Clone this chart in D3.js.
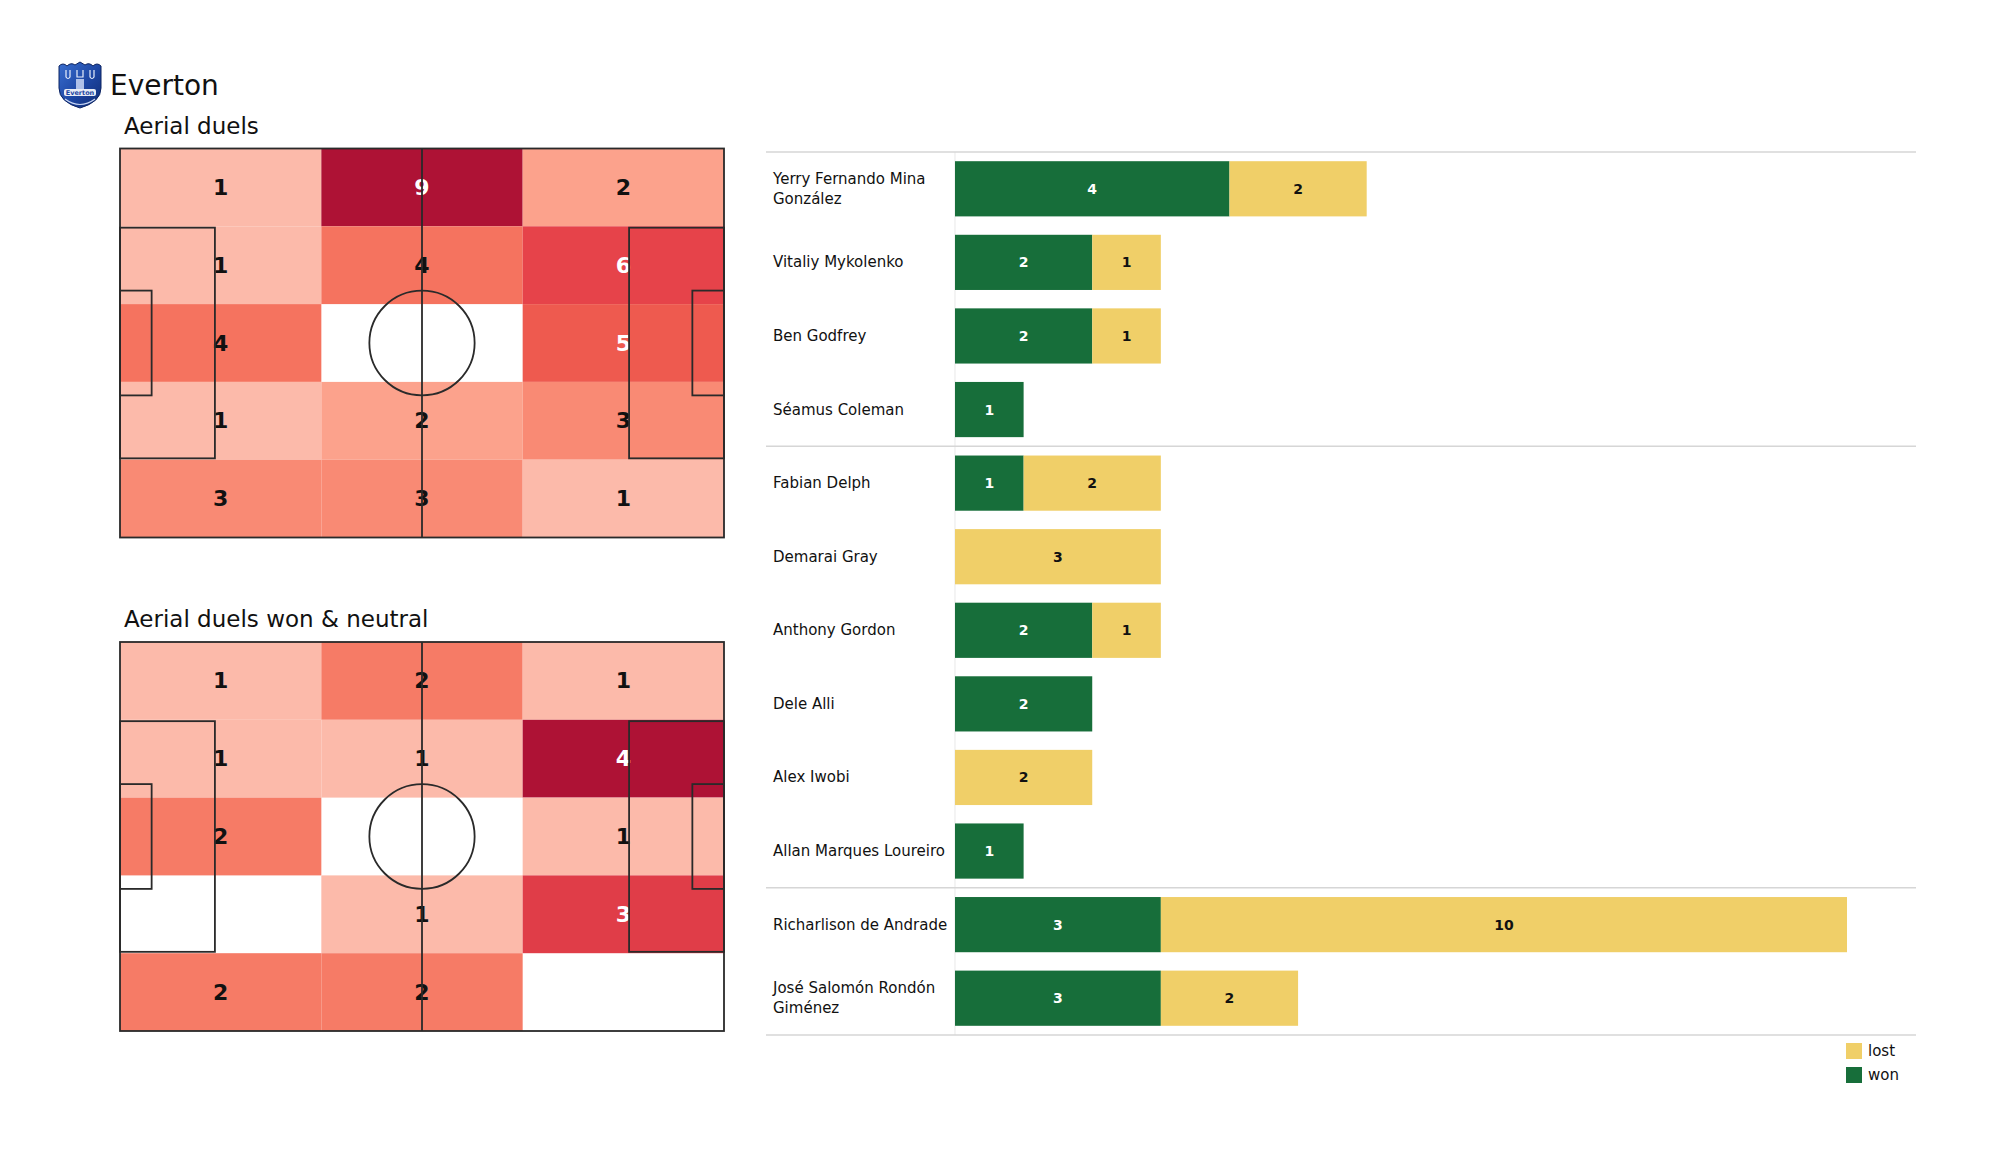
<!DOCTYPE html>
<html>
<head>
<meta charset="utf-8">
<script src="https://cdn.jsdelivr.net/npm/d3@7"></script>
<style>
  html, body { margin: 0; padding: 0; background: #ffffff; }
  svg { display: block; }
  text { font-family: "DejaVu Sans", sans-serif; }
</style>
</head>
<body>
<svg id="chart" width="2000" height="1175"></svg>
<script>
// ---------------- DATA ----------------
const teamName = "Everton";
const pitchTitles = ["Aerial duels", "Aerial duels won & neutral"];
// rows top->bottom, columns left->right
const aerialDuels = [
  [1, 9, 2],
  [1, 4, 6],
  [4, 0, 5],
  [1, 2, 3],
  [3, 3, 1]
];
const aerialDuelsWonNeutral = [
  [1, 2, 1],
  [1, 1, 4],
  [2, 0, 1],
  [0, 1, 3],
  [2, 2, 0]
];
const players = [
  "Yerry Fernando Mina González",
  "Vitaliy Mykolenko",
  "Ben Godfrey",
  "Séamus Coleman",
  "Fabian Delph",
  "Demarai Gray",
  "Anthony Gordon",
  "Dele Alli",
  "Alex Iwobi",
  "Allan Marques Loureiro",
  "Richarlison de Andrade",
  "José Salomón Rondón Giménez"
];
const playerLabelLines = [
  ["Yerry Fernando Mina", "González"],
  ["Vitaliy Mykolenko"],
  ["Ben Godfrey"],
  ["Séamus Coleman"],
  ["Fabian Delph"],
  ["Demarai Gray"],
  ["Anthony Gordon"],
  ["Dele Alli"],
  ["Alex Iwobi"],
  ["Allan Marques Loureiro"],
  ["Richarlison de Andrade"],
  ["José Salomón Rondón", "Giménez"]
];
const won  = [4, 2, 2, 1, 1, 0, 2, 2, 0, 1, 3, 3];
const lost = [2, 1, 1, 0, 2, 3, 1, 0, 2, 0, 10, 2];
const groupSizes = [4, 6, 2];
const seriesNames = ["won", "lost"];
const legendOrder = ["lost", "won"];

// ---------------- STYLE ----------------
const seriesColors = { won: "#176e3a", lost: "#f0cf68" };
const heatStops  = [0, 0.125, 0.25, 0.375, 0.5, 0.625, 0.8, 1];
const heatColors = ["#fcbaaa", "#fca28c", "#f98a74", "#f5735f", "#ee5a4f", "#e6434a", "#cd2a40", "#ae1235"];

const svg = d3.select("#chart");
svg.append("rect").attr("width", 2000).attr("height", 1175).attr("fill", "#ffffff");

// ---------------- LOGO ----------------
const logo = svg.append("g").attr("transform", "translate(57,62)");
const defs = svg.append("defs");
const grad = defs.append("linearGradient").attr("id", "crestGrad")
  .attr("x1", "0").attr("y1", "0").attr("x2", "1").attr("y2", "1");
grad.append("stop").attr("offset", "0%").attr("stop-color", "#3a6fd0");
grad.append("stop").attr("offset", "55%").attr("stop-color", "#1d46a3");
grad.append("stop").attr("offset", "100%").attr("stop-color", "#102c72");
logo.append("path")
  .attr("d", "M2,4 Q6,0 10,4 Q14,0 18,3 L23,0 L28,3 Q32,0 36,4 Q40,0 44,4 L44,26 Q44,40 23,46 Q2,40 2,26 Z")
  .attr("fill", "url(#crestGrad)").attr("stroke", "#0d2462").attr("stroke-width", 1);
logo.append("path")
  .attr("d", "M9,8 L9,15 Q11,18 13,15 L13,8 M20,8 L20,15 L26,15 L26,8 M33,8 L33,15 Q35,18 37,15 L37,8")
  .attr("fill", "none").attr("stroke", "#e8eefc").attr("stroke-width", 1.2);
logo.append("rect").attr("x", 19).attr("y", 17).attr("width", 8).attr("height", 10)
  .attr("fill", "#c9d6f3").attr("opacity", 0.85);
logo.append("rect").attr("x", 7).attr("y", 27).attr("width", 32).attr("height", 7)
  .attr("rx", 2).attr("fill", "#ffffff").attr("opacity", 0.9);
logo.append("text").attr("x", 23).attr("y", 32.6).attr("text-anchor", "middle")
  .attr("font-size", 6.5).attr("font-weight", "bold").attr("fill", "#1d46a3").text("Everton");
logo.append("path").attr("d", "M8,37 Q23,48 38,37").attr("fill", "none")
  .attr("stroke", "#c9d6f3").attr("stroke-width", 1.2);

svg.append("text").attr("x", 110).attr("y", 95)
  .attr("font-size", 28).attr("fill", "#111111").text(teamName);

// ---------------- PITCH HEATMAPS ----------------
const pitchLength = 105, pitchWidth = 68;
const xEdges = [0, 35, 70, 105];
const yEdges = [0, 13.6, 27.2, 40.8, 54.4, 68];

function drawPitch(top, title, values) {
  const g = svg.append("g");
  const x = d3.scaleLinear().domain([0, pitchLength]).range([120, 724]);
  const y = d3.scaleLinear().domain([0, pitchWidth]).range([top, top + 389]);

  svg.append("text").attr("x", 124).attr("y", top - 15)
    .attr("font-size", 23).attr("fill", "#111111").text(title);

  const flat = [];
  values.forEach((row, r) => row.forEach((v, c) => flat.push({ r, c, v })));
  const nonZero = flat.filter(d => d.v > 0).map(d => d.v);
  const norm = d3.scaleLinear().domain([d3.min(nonZero), d3.max(nonZero)]).range([0, 1]);
  const color = d3.scaleLinear().domain(heatStops).range(heatColors).interpolate(d3.interpolateRgb);

  g.selectAll("rect.cell").data(flat.filter(d => d.v > 0)).join("rect")
    .attr("class", "cell")
    .attr("x", d => x(xEdges[d.c]))
    .attr("y", d => y(yEdges[d.r]))
    .attr("width", d => x(xEdges[d.c + 1]) - x(xEdges[d.c]))
    .attr("height", d => y(yEdges[d.r + 1]) - y(yEdges[d.r]))
    .attr("fill", d => color(norm(d.v)));

  g.selectAll("text.val").data(flat.filter(d => d.v > 0)).join("text")
    .attr("class", "val")
    .attr("x", d => (x(xEdges[d.c]) + x(xEdges[d.c + 1])) / 2)
    .attr("y", d => (y(yEdges[d.r]) + y(yEdges[d.r + 1])) / 2)
    .attr("text-anchor", "middle").attr("dominant-baseline", "central")
    .attr("font-size", 22).attr("font-weight", "bold")
    .attr("fill", d => norm(d.v) > 0.45 ? "#ffffff" : "#111111")
    .text(d => d.v);

  const line = { fill: "none", stroke: "#2a2a2a", "stroke-width": 1.8 };
  const lines = g.append("g");
  function rectP(x0, y0, x1, y1) {
    const el = lines.append("rect")
      .attr("x", x(x0)).attr("y", y(y0))
      .attr("width", x(x1) - x(x0)).attr("height", y(y1) - y(y0));
    Object.entries(line).forEach(([k, v]) => el.attr(k, v));
  }
  rectP(0, 0, pitchLength, pitchWidth);
  const pbY0 = (pitchWidth - 40.32) / 2, pbY1 = pitchWidth - pbY0;
  const gaY0 = (pitchWidth - 18.32) / 2, gaY1 = pitchWidth - gaY0;
  rectP(0, pbY0, 16.5, pbY1);
  rectP(pitchLength - 16.5, pbY0, pitchLength, pbY1);
  rectP(0, gaY0, 5.5, gaY1);
  rectP(pitchLength - 5.5, gaY0, pitchLength, gaY1);
  lines.append("line")
    .attr("x1", x(pitchLength / 2)).attr("x2", x(pitchLength / 2))
    .attr("y1", y(0)).attr("y2", y(pitchWidth))
    .attr("stroke", "#2a2a2a").attr("stroke-width", 1.8);
  lines.append("ellipse")
    .attr("cx", x(pitchLength / 2)).attr("cy", y(pitchWidth / 2))
    .attr("rx", x(9.15) - x(0)).attr("ry", y(9.15) - y(0))
    .attr("fill", "none").attr("stroke", "#2a2a2a").attr("stroke-width", 1.8);
}
drawPitch(148.5, pitchTitles[0], aerialDuels);
drawPitch(642, pitchTitles[1], aerialDuelsWonNeutral);

// ---------------- BAR CHART ----------------
const barTop = 152, barBottom = 1035;
const yB = d3.scaleBand().domain(players).range([barTop, barBottom])
  .paddingInner(0.25).paddingOuter(0.125);
const xB = d3.scaleLinear().domain([0, 13]).range([955, 1847]);
const step = yB.step();

const rows = players.map((p, i) => ({ p, i, won: won[i], lost: lost[i] }));
const stack = d3.stack().keys(seriesNames)(rows);

const bars = svg.append("g");
// axis spine
bars.append("line").attr("x1", xB(0)).attr("x2", xB(0))
  .attr("y1", barTop).attr("y2", barBottom)
  .attr("stroke", "#ececec").attr("stroke-width", 1.2);

// group separators
const sepIdx = [0];
groupSizes.reduce((acc, s) => { sepIdx.push(acc + s); return acc + s; }, 0);
bars.selectAll("line.sep").data(sepIdx).join("line")
  .attr("class", "sep")
  .attr("x1", 766).attr("x2", 1916)
  .attr("y1", d => barTop + d * step).attr("y2", d => barTop + d * step)
  .attr("stroke", "#d6d6d6").attr("stroke-width", 1.5);

stack.forEach(layer => {
  const key = layer.key;
  bars.selectAll("rect." + key).data(layer.filter(d => d[1] - d[0] > 0)).join("rect")
    .attr("class", key)
    .attr("x", d => xB(d[0]))
    .attr("y", d => yB(d.data.p))
    .attr("width", d => xB(d[1]) - xB(d[0]))
    .attr("height", yB.bandwidth())
    .attr("fill", seriesColors[key]);
  bars.selectAll("text.l" + key).data(layer.filter(d => d[1] - d[0] > 0)).join("text")
    .attr("class", "l" + key)
    .attr("x", d => (xB(d[0]) + xB(d[1])) / 2)
    .attr("y", d => yB(d.data.p) + yB.bandwidth() / 2)
    .attr("text-anchor", "middle").attr("dominant-baseline", "central")
    .attr("font-size", 14).attr("font-weight", "bold")
    .attr("fill", key === "won" ? "#ffffff" : "#111111")
    .text(d => d[1] - d[0]);
});

// player labels
const labels = bars.selectAll("text.name").data(rows).join("text")
  .attr("class", "name")
  .attr("x", 773)
  .attr("y", d => yB(d.p) + yB.bandwidth() / 2)
  .attr("font-size", 15).attr("fill", "#111111");
labels.each(function (d) {
  const ls = playerLabelLines[d.i];
  const t = d3.select(this);
  const lh = 20;
  ls.forEach((s, k) => {
    t.append("tspan").attr("x", 773)
      .attr("y", yB(d.p) + yB.bandwidth() / 2 + (k - (ls.length - 1) / 2) * lh)
      .attr("dominant-baseline", "central")
      .text(s);
  });
});

// legend
const leg = svg.append("g");
legendOrder.forEach((k, i) => {
  leg.append("rect").attr("x", 1846).attr("y", 1043 + i * 24)
    .attr("width", 16).attr("height", 16).attr("fill", seriesColors[k]);
  leg.append("text").attr("x", 1868).attr("y", 1051 + i * 24)
    .attr("dominant-baseline", "central")
    .attr("font-size", 15).attr("fill", "#111111").text(k);
});
</script>
</body>
</html>
